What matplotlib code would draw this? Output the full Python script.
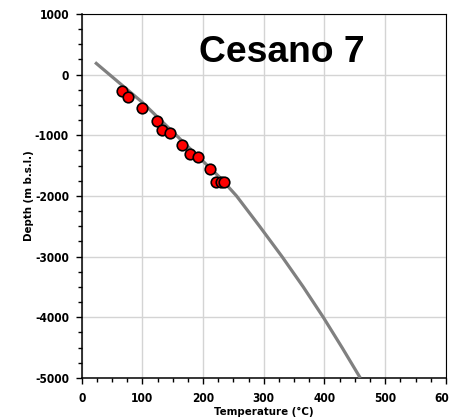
import matplotlib
matplotlib.use("Agg")
import matplotlib.pyplot as plt
from matplotlib.ticker import MultipleLocator

plt.rcParams["axes.unicode_minus"] = False

# Measured data (temperature °C, depth m b.s.l.)
meas_temp = [67, 76, 100, 124, 132, 145, 165, 178, 191, 212, 222, 229, 235]
meas_depth = [-275, -363, -555, -758, -912, -962, -1159, -1313, -1352, -1554, -1775, -1765, -1765]

# Modelled geotherm
model_temp = [22, 100, 200, 228, 255, 293, 330, 365, 398, 429, 459]
model_depth = [200, -460, -1430, -1700, -2000, -2500, -3000, -3500, -4000, -4500, -5000]

title_text = "Cesano 7"
xlabel_text = "Temperature (°C)"
ylabel_text = "Depth (m b.s.l.)"

narrow = ["DejaVu Sans"]

fig = plt.figure(figsize=(4.49, 4.19), dpi=100)
ax = fig.add_axes([0.182, 0.098, 0.811, 0.869])

ax.plot(model_temp, model_depth, color="#808080", lw=2.3, zorder=3,
        solid_capstyle="butt", solid_joinstyle="round")
ax.plot(meas_temp, meas_depth, linestyle="none", marker="o", markersize=7.6,
        markerfacecolor="#ff0000", markeredgecolor="black", markeredgewidth=1.2, zorder=4)

ax.set_xlim(0, 600)
ax.set_ylim(-5000, 1000)
ax.xaxis.set_major_locator(MultipleLocator(100))
ax.xaxis.set_minor_locator(MultipleLocator(25))
ax.yaxis.set_major_locator(MultipleLocator(1000))
ax.yaxis.set_minor_locator(MultipleLocator(250))

ax.grid(True, which="major", color="#d4d4d4", lw=1.0, zorder=0)
ax.set_axisbelow(True)

for s in ax.spines.values():
    s.set_color("black")
    s.set_linewidth(0.8)
ax.spines["left"].set_linewidth(1.1)
ax.spines["bottom"].set_linewidth(1.1)

ax.tick_params(which="major", direction="out", length=4.2, width=1.0, colors="black", pad=5)
ax.tick_params(which="minor", direction="out", length=2.6, width=1.0, colors="black")
ax.tick_params(axis="x", which="major", pad=6)
ax.tick_params(top=False, right=False, which="both")

for lab in ax.get_xticklabels() + ax.get_yticklabels():
    lab.set_fontfamily(narrow)
    lab.set_fontstretch("condensed")
    lab.set_fontweight("bold")
    lab.set_fontsize(8.6)

ax.set_xlabel(xlabel_text, family=narrow, fontstretch="condensed", fontweight="bold",
              fontsize=8.2, labelpad=1)
ax.set_ylabel(ylabel_text, family=narrow, fontstretch="condensed", fontweight="bold",
              fontsize=8.2, labelpad=0.5)

ax.text(0.549, 0.869, title_text, transform=ax.transAxes, ha="center", va="baseline",
        family=["Liberation Sans", "DejaVu Sans"], fontweight="bold", fontsize=26.8, zorder=5)

fig.savefig("out.png", dpi=100)
